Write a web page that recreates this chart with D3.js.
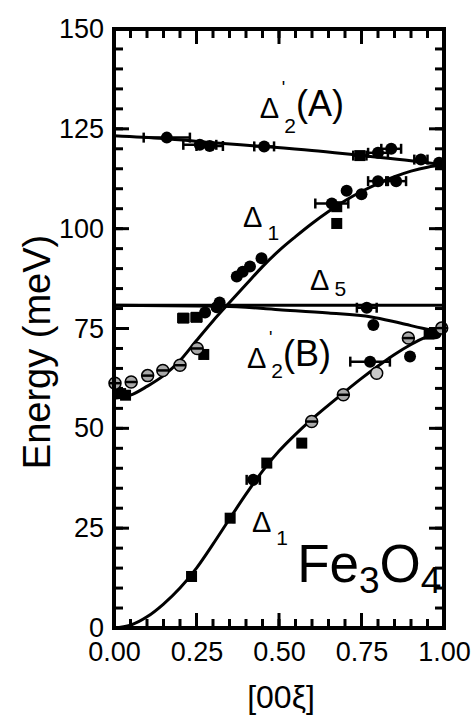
<!DOCTYPE html>
<html>
<head>
<meta charset="utf-8">
<script src="https://d3js.org/d3.v7.min.js"></script>
<style>
  body { margin: 0; background: #fff; }
  text { font-family: "Liberation Sans", Arial, sans-serif; fill: #000; }
</style>
</head>
<body>
<div id="chart"></div>
<script>
// axis ticks
var xMajor = [0, 0.25, 0.5, 0.75, 1.0];
var yMajor = [0, 25, 50, 75, 100, 125, 150];
var xMinor = d3.range(0, 1.0001, 0.05);
var yMinor = d3.range(0, 150.1, 5);

// fitted dispersion curves [xi, energy]
var fitA = [[0,123.3],[0.15,122.6],[0.3,121.5],[0.45,120.6],[0.6,119.6],[0.75,118.3],[0.9,117],[1.0,116]];
var fitD1up = [[0,57.5],[0.05,58.3],[0.1,60.5],[0.15,63.2],[0.2,67],[0.25,72],[0.3,76.9],[0.35,81.5],[0.4,86],
  [0.45,90.5],[0.5,94.5],[0.55,98],[0.6,101.3],[0.65,104.3],[0.7,107],[0.75,109.3],[0.8,111.3],[0.85,113],
  [0.9,114.4],[0.95,115.4],[1.0,116]];
var fitD5 = [[0,80.8],[1.0,80.8]];
var fitB = [[0,80.8],[0.33,80.6],[0.5,79.7],[0.65,78.9],[0.78,77.9],[0.87,76.3],[0.96,74.7],[1.0,74.4]];
var fitD1low = [[0,0],[0.05,0.7],[0.1,2.8],[0.15,6],[0.2,10],[0.25,15],[0.3,21],[0.35,27.3],[0.4,33.5],
  [0.45,39.3],[0.5,44.3],[0.55,48.5],[0.6,52.3],[0.65,55.8],[0.7,59.2],[0.75,62.5],[0.8,65.6],[0.85,68.5],
  [0.9,71],[0.95,73],[1.0,74.4]];

// measured points [xi, energy, xi error]
var blackCircles = [
  [0.16,122.8,0.07],[0.26,121.0,0.05],[0.29,120.7,0.04],[0.455,120.6,0.03],[0.80,119.0,0.03],[0.84,120.0,0.03],
  [0.93,117.3,0.02],[0.985,116.5,0],
  [0.80,111.9,0.03],[0.855,111.9,0.03],[0.705,109.5,0],[0.75,108.6,0],[0.66,106.3,0.05],
  [0.372,88.0,0],[0.39,89.2,0],[0.412,90.5,0],[0.447,92.6,0],[0.276,79.0,0],[0.311,80.3,0],[0.32,81.5,0],
  [0.766,80.2,0.03],
  [0.786,75.9,0],[0.897,68.0,0],[0.975,73.8,0],
  [0.776,66.7,0.06],[0.422,37.1,0.02]
];
var blackSquares = [
  [0.745,118.3,0.02],[0.675,105.5,0],[0.675,101.3,0],[0.21,77.6,0.015],[0.25,77.8,0.015],
  [0.272,68.5,0.01],[0.02,58.7,0],[0.035,58.3,0],[0.955,73.6,0],
  [0.569,46.3,0.01],[0.463,41.3,0.01],[0.352,27.5,0.01],[0.235,12.9,0.01]
];
var stripedCircles = [
  [0.252,70.0,0],[0.2,65.8,0],[0.148,64.5,0],[0.102,63.2,0],[0.052,61.6,0],[0.003,61.3,0],
  [0.892,72.6,0],[0.993,75.1,0],[0.695,58.4,0],[0.599,51.7,0]
];
var greyCircles = [[0.796,63.8,0]];

var W = 475, H = 716;
var x = d3.scaleLinear().domain([0, 1]).range([114, 444]);
var y = d3.scaleLinear().domain([0, 150]).range([628, 29]);

var svg = d3.select("#chart").append("svg")
  .attr("width", W).attr("height", H);

// tick labels from d3 axes
function styleAxis(g) {
  g.select(".domain").remove();
  g.selectAll(".tick line").remove();
  g.selectAll(".tick text").style("font-size", "27px")
    .style("font-family", '"Liberation Sans", Arial, sans-serif');
}
svg.append("g").attr("transform", "translate(0,628)")
  .call(d3.axisBottom(x).tickValues(xMajor).tickSize(0).tickPadding(14).tickFormat(d3.format(".2f")))
  .call(styleAxis);
svg.append("g").attr("transform", "translate(114,0)")
  .call(d3.axisLeft(y).tickValues(yMajor).tickSize(0).tickPadding(10).tickFormat(d3.format("d")))
  .call(styleAxis);

// inward ticks on all four sides
var tk = svg.append("g").attr("stroke", "#000").attr("stroke-width", 3);
function xTicks(vals, len) {
  [628, 29].forEach(function(y0, i){
    var dir = i === 0 ? -1 : 1;
    tk.selectAll(null).data(vals).enter().append("line")
      .attr("x1", function(d){ return x(d); }).attr("x2", function(d){ return x(d); })
      .attr("y1", y0).attr("y2", y0 + dir * len);
  });
}
function yTicks(vals, len) {
  [114, 444].forEach(function(x0, i){
    var dir = i === 0 ? 1 : -1;
    tk.selectAll(null).data(vals).enter().append("line")
      .attr("y1", function(d){ return y(d); }).attr("y2", function(d){ return y(d); })
      .attr("x1", x0).attr("x2", x0 + dir * len);
  });
}
xTicks(xMinor, 9); xTicks(xMajor, 15);
yTicks(yMinor, 9); yTicks(yMajor, 15);

// curves
var line = d3.line()
  .x(function(d){ return x(d[0]); })
  .y(function(d){ return y(d[1]); })
  .curve(d3.curveMonotoneX);
[fitA, fitD1up, fitD5, fitB, fitD1low].forEach(function(f){
  svg.append("path").datum(f)
    .attr("d", line)
    .attr("fill", "none")
    .attr("stroke", "#000")
    .attr("stroke-width", 3);
});

// error bars
var allPts = blackCircles.concat(blackSquares, stripedCircles, greyCircles)
  .filter(function(d){ return d[2] > 0; });
var eb = svg.append("g").attr("stroke", "#000").attr("stroke-width", 2.5);
eb.selectAll(null).data(allPts).enter().append("line")
  .attr("x1", function(d){ return x(d[0] - d[2]); })
  .attr("x2", function(d){ return x(d[0] + d[2]); })
  .attr("y1", function(d){ return y(d[1]); })
  .attr("y2", function(d){ return y(d[1]); });
[-1, 1].forEach(function(s){
  eb.selectAll(null).data(allPts).enter().append("line")
    .attr("x1", function(d){ return x(d[0] + s * d[2]); })
    .attr("x2", function(d){ return x(d[0] + s * d[2]); })
    .attr("y1", function(d){ return y(d[1]) - 5; })
    .attr("y2", function(d){ return y(d[1]) + 5; });
});

// markers
svg.selectAll(null).data(blackCircles).enter().append("circle")
  .attr("cx", function(d){ return x(d[0]); })
  .attr("cy", function(d){ return y(d[1]); })
  .attr("r", 6).attr("fill", "#000");
svg.selectAll(null).data(blackSquares).enter().append("rect")
  .attr("x", function(d){ return x(d[0]) - 5.5; })
  .attr("y", function(d){ return y(d[1]) - 5.5; })
  .attr("width", 11).attr("height", 11).attr("fill", "#000");
svg.selectAll(null).data(greyCircles).enter().append("circle")
  .attr("cx", function(d){ return x(d[0]); })
  .attr("cy", function(d){ return y(d[1]); })
  .attr("r", 6).attr("fill", "#c8c8c8").attr("stroke", "#000").attr("stroke-width", 1.5);
var sc = svg.selectAll(null).data(stripedCircles).enter().append("g");
sc.append("circle")
  .attr("cx", function(d){ return x(d[0]); })
  .attr("cy", function(d){ return y(d[1]); })
  .attr("r", 6).attr("fill", "#a9a9a9").attr("stroke", "#000").attr("stroke-width", 1.5);
sc.append("line")
  .attr("x1", function(d){ return x(d[0]) - 6; })
  .attr("x2", function(d){ return x(d[0]) + 6; })
  .attr("y1", function(d){ return y(d[1]); })
  .attr("y2", function(d){ return y(d[1]); })
  .attr("stroke", "#000").attr("stroke-width", 2.5);

// frame
svg.append("rect")
  .attr("x", 114).attr("y", 29).attr("width", 330).attr("height", 599)
  .attr("fill", "none").attr("stroke", "#000").attr("stroke-width", 4);

// axis titles
svg.append("text")
  .attr("transform", "translate(50,352) rotate(-90)")
  .attr("text-anchor", "middle")
  .style("font-size", "38px")
  .text("Energy (meV)");
svg.append("text")
  .attr("x", 281).attr("y", 708)
  .attr("text-anchor", "middle")
  .style("font-size", "32px")
  .text("[00ξ]");

// branch labels
function deltaLabel(px, py, sub, subDy, tail, prime) {
  var t = svg.append("text").attr("x", px).attr("y", py).style("font-size", "29px");
  t.append("tspan").text("Δ");
  t.append("tspan").attr("dx", 5).attr("dy", subDy).style("font-size", "21px").text(sub);
  if (tail) t.append("tspan").attr("dx", 0).attr("dy", -subDy - 2).style("font-size", "36px").text(tail);
  if (prime) svg.append("text").attr("x", px + 22).attr("y", py - 24).style("font-size", "18px").text("'");
}
deltaLabel(x(0.442), y(127.8), "2", 15, "(A)", true);
deltaLabel(x(0.391), y(100.5), "1", 13, null, false);
deltaLabel(x(0.594), y(84.7), "5", 6, null, false);
deltaLabel(x(0.403), y(65.2), "2", 10, "(B)", true);
deltaLabel(x(0.418), y(24.1), "1", 13, null, false);

var fe = svg.append("text").attr("x", x(0.555)).attr("y", y(11.5)).style("font-size", "53px");
fe.append("tspan").text("Fe");
fe.append("tspan").attr("dy", 11).style("font-size", "37px").text("3");
fe.append("tspan").attr("dy", -11).text("O");
fe.append("tspan").attr("dy", 11).style("font-size", "37px").text("4");
</script>
</body>
</html>
